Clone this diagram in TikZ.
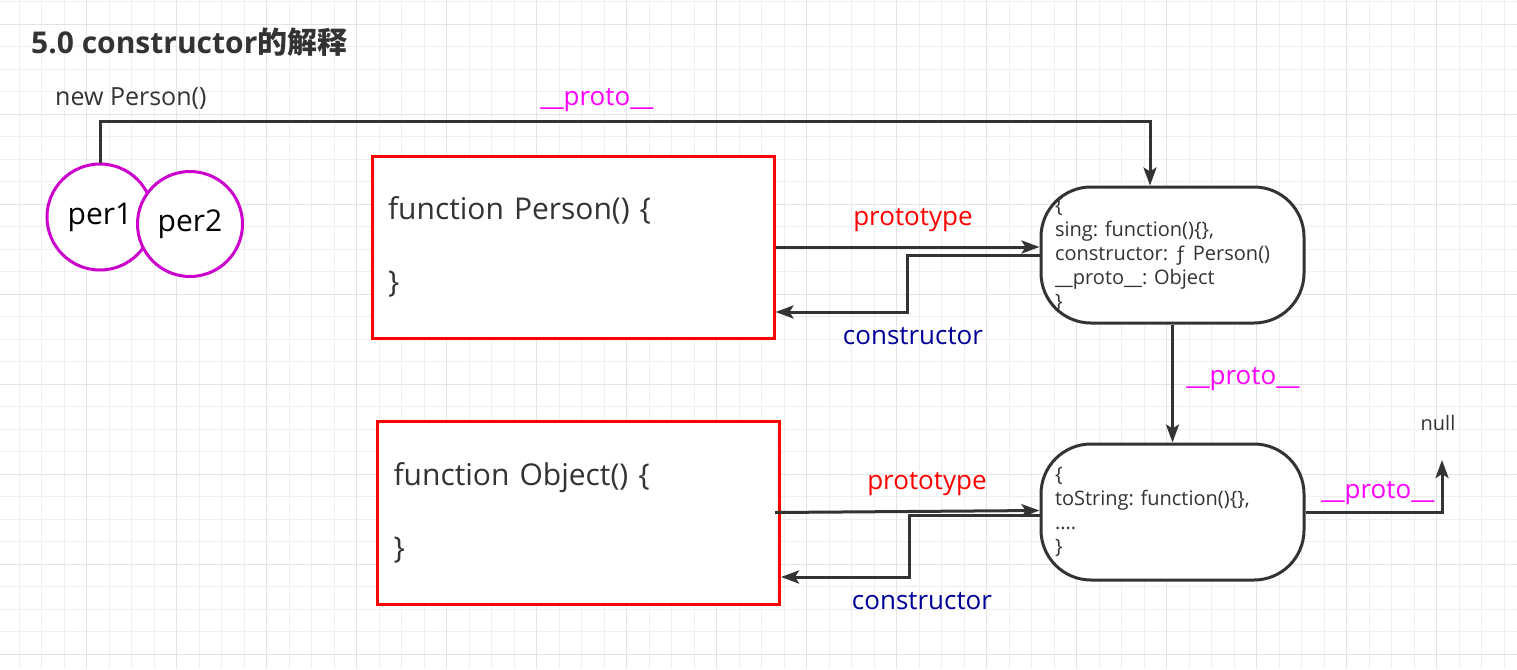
\documentclass[tikz,border=0pt]{standalone}
\usepackage{fontspec}
\setmainfont{Open Sans}
\newfontfamily\cjk{Noto Sans CJK SC}
\usetikzlibrary{arrows.meta}
\frenchspacing

\definecolor{ink}{HTML}{333333}
\definecolor{circ}{HTML}{CC00CC}
\definecolor{protocol}{HTML}{FF00FF}
\definecolor{ctor}{HTML}{000099}
\definecolor{gridminor}{HTML}{EFEFEF}
\definecolor{gridmajor}{HTML}{E3E3E3}

\begin{document}
\begin{tikzpicture}[x=1pt,y=-1pt,
		arr/.style={draw=ink,line width=3pt,-{Stealth[length=18pt,width=13pt,inset=4pt]}},
		person/.style={circle,draw=circ,line width=3pt,fill=white,inner sep=0pt,font=\fontsize{30}{32}\selectfont},
		funcbox/.style={draw=red,line width=3pt,fill=white,minimum width=402pt,minimum height=182pt,
			text width=370pt,inner xsep=16pt,align=left,text=ink,font=\fontsize{30}{73}\selectfont},
		objbox/.style={draw=ink,line width=3pt,fill=white,rounded corners=50pt,minimum width=263pt,minimum height=136pt,
			text width=235pt,inner xsep=14pt,align=left,text=ink,font=\fontsize{20}{24}\selectfont},
		lbl/.style={inner sep=0pt,font=\fontsize{26}{28}\selectfont}]
		\useasboundingbox (0,0) rectangle (1517,669);

		% grid
		\foreach \i in {0,...,66}
		\draw[gridminor,line width=1pt] ({19.2+22.5*\i},0) -- ({19.2+22.5*\i},669);
		\foreach \i in {0,...,29}
		\draw[gridminor,line width=1pt] (0,{1.8+22.5*\i}) -- (1517,{1.8+22.5*\i});
		\foreach \i in {0,...,15}
		\draw[gridmajor,line width=1pt] ({86.7+90*\i},0) -- ({86.7+90*\i},669);
		\foreach \i in {0,...,7}
		\draw[gridmajor,line width=1pt] (0,{24.3+90*\i}) -- (1517,{24.3+90*\i});

		\node[anchor=west,inner sep=0pt,text=ink,font=\bfseries\fontsize{30}{34}\selectfont] (title) at (31,42) {5.0 constructor{\cjk 的解释}};
		\node[anchor=west,inner sep=0pt,text=ink,font=\fontsize{25}{28}\selectfont] (newp) at (55,99) {new Person()};

		\node[person,minimum size=106pt] (per1) at (100,217) {per1};
		\node[person,minimum size=105pt] (per2) at (190,224) {per2};

		\node[funcbox] (fp) at (573,247) {function Person() \{\\\}};
		\node[funcbox,minimum width=401pt,minimum height=183pt] (fo) at (578.5,512.5) {function Object() \{\\\}};

		\node[objbox] (pp) at (1172.5,255) {\{\\sing: function()\{\},\\constructor: ƒ Person()\\\_\_proto\_\_: Object\\\}};
		\node[objbox] (po) at (1172.5,512) {\{\\toString: function()\{\},\\....\\\}};

		\coordinate (top) at (1150,121);
		\coordinate (pbend) at (907,312);
		\coordinate (obend) at (909,577);
		\coordinate (nulltip) at (1442,460);

		\draw[arr] (per1.north) |- (top) -- (top |- pp.north);
		\draw[arr] (fp.east) -- (pp.west |- fp.east);
		\draw[arr] (pp.west) -| (pbend) -- (fp.east |- pbend);
		\draw[arr] ([xshift=-6pt]fo.east) -- ([yshift=2pt]po.west |- fo.east);
		\draw[arr] ([yshift=-3pt]po.west) -| (obend) -- (fo.east |- obend);
		\draw[arr] (pp.south) -- (po.north);
		\draw[arr] (po.east) -| (nulltip);

		\node[lbl,text=protocol] (ptop) at (597,100) {\_\_proto\_\_};
		\node[lbl,text=red] (prot1) at (913,220) {prototype};
		\node[lbl,text=ctor] (ctor1) at (913,336) {constructor};
		\node[lbl,text=protocol] (pmid) at (1243,379) {\_\_proto\_\_};
		\node[lbl,text=ink,font=\fontsize{20}{22}\selectfont] (null) at (1438,423) {null};
		\node[lbl,text=red] (prot2) at (927,484) {prototype};
		\node[lbl,text=ctor] (ctor2) at (922,601) {constructor};
		\node[lbl,text=protocol] (pright) at (1378,493) {\_\_proto\_\_};
	    \end{tikzpicture}
\end{document}
